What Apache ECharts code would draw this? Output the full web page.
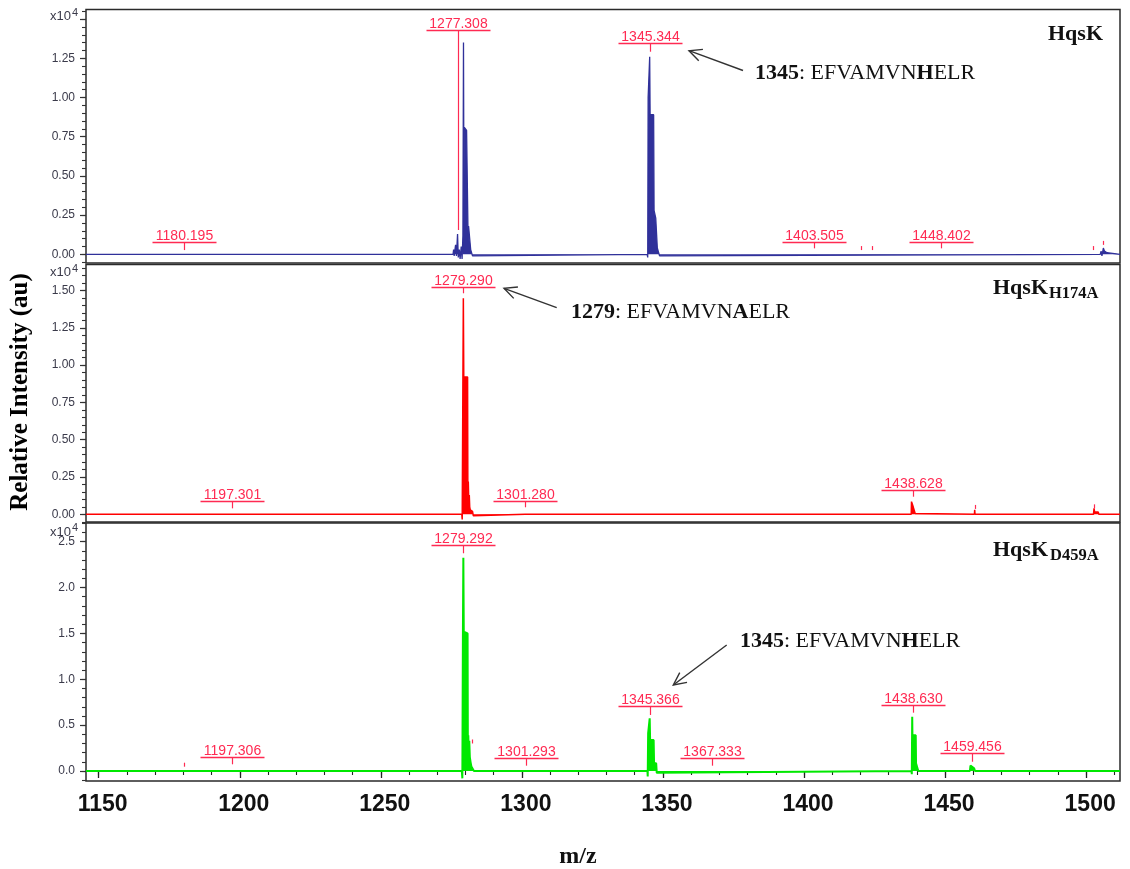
<!DOCTYPE html>
<html><head><meta charset="utf-8">
<script src="https://cdn.jsdelivr.net/npm/echarts@6/dist/echarts.min.js"></script>
<style>html,body{margin:0;padding:0;background:#fff}#c{width:1130px;height:869px}</style>
</head><body><div id="c"></div>
<script>
// ---------- data ----------
const xTicks = [1150,1200,1250,1300,1350,1400,1450,1500];
const xMinorTicks = [1150,1160,1170,1180,1190,1200,1210,1220,1230,1240,1250,1260,1270,1280,1290,1300,1310,1320,1330,1340,1350,1360,1370,1380,1390,1400,1410,1420,1430,1440,1450,1460,1470,1480,1490,1500,1510];

const y1Labels = [0,0.25,0.5,0.75,1.0,1.25];
const y1Major = [0,0.25,0.5,0.75,1.0,1.25,1.5];
const y1Minor = [-0.05,0,0.05,0.1,0.15,0.2,0.25,0.3,0.35,0.4,0.45,0.5,0.55,0.6,0.65,0.7,0.75,0.8,0.85,0.9,0.95,1.0,1.05,1.1,1.15,1.2,1.25,1.3,1.35,1.4,1.45,1.5,1.55];
const y2Labels = [0,0.25,0.5,0.75,1.0,1.25,1.5];
const y2Minor = [-0.05,0,0.05,0.1,0.15,0.2,0.25,0.3,0.35,0.4,0.45,0.5,0.55,0.6,0.65,0.7,0.75,0.8,0.85,0.9,0.95,1.0,1.05,1.1,1.15,1.2,1.25,1.3,1.35,1.4,1.45,1.5,1.55,1.6,1.65];
const y3Labels = [0,0.5,1.0,1.5,2.0,2.5];
const y3Minor = [-0.1,0,0.1,0.2,0.3,0.4,0.5,0.6,0.7,0.8,0.9,1.0,1.1,1.2,1.3,1.4,1.5,1.6,1.7,1.8,1.9,2.0,2.1,2.2,2.3,2.4,2.5,2.6,2.7];

// spectra: [m/z, intensity (x10^4)]
const specHqsK = [[1145.5,0],[1179.9,0],[1180.1,0.004],[1180.3,0],
 [1275.6,0],[1275.8,0.03],[1276.0,-0.01],[1276.5,0.06],[1276.8,-0.01],[1277.2,0.13],[1277.45,-0.02],[1277.8,0.03],[1278.1,-0.03],[1278.5,0.05],[1278.8,-0.03],[1279.1,0.12],[1279.3,1.35],[1279.45,0.4],[1279.6,0.81],[1280.1,0.80],[1280.4,0.79],[1280.8,0.78],[1280.95,0.08],[1281.1,0.18],[1281.4,0.17],[1281.7,0.18],[1281.85,0.03],[1282.1,0.04],[1282.5,-0.01],[1283.0,0],
 [1344.4,0],[1344.6,-0.02],[1344.75,1.0],[1345.15,1.0],[1345.3,1.26],[1345.45,0.89],[1346.7,0.89],[1346.85,0.28],[1347.3,0.28],[1347.45,0.23],[1347.85,0.23],[1348.0,0.04],[1348.6,0.04],[1348.8,-0.01],[1349.1,0],
 [1505.0,0],[1505.3,0.02],[1505.6,-0.01],[1506.1,0.04],[1506.5,0.02],[1507.4,0.01],[1507.8,0],[1512,0]];
const specH174A = [[1145.5,0],[1197.2,0],[1197.3,0.012],[1197.5,0.012],[1197.6,0],
 [1278.7,0],[1278.85,-0.035],[1279.05,-0.03],[1279.1,0.92],[1279.25,1.449],[1279.4,0.92],[1280.75,0.92],[1280.85,0.1],[1281.0,0.22],[1281.15,0.1],[1281.35,0.13],[1281.5,0.05],[1281.7,0.03],[1282.5,0.02],[1282.8,-0.01],[1283.0,0],
 [1301.2,0],[1301.3,0.012],[1301.5,0.012],[1301.6,0],
 [1438.0,0],[1438.1,0.085],[1438.6,0.085],[1438.7,0.05],[1439.3,0.05],[1439.4,0.005],[1439.9,0.017],[1440.1,0],
 [1460.4,0],[1460.5,0.03],[1460.6,0],
 [1502.6,0],[1502.8,0.04],[1503.0,0.015],[1504.3,0.015],[1504.5,0],[1512,0]];
const specD459A = [[1145.5,0],[1180.3,0],[1180.4,0.01],[1180.5,0],[1197.2,0],[1197.3,0.02],[1197.4,0],
 [1278.7,0],[1278.9,-0.08],[1279.05,-0.06],[1279.1,1.52],[1279.25,2.326],[1279.4,1.52],[1280.75,1.50],[1280.85,0.2],[1281.0,0.39],[1281.15,0.2],[1281.35,0.33],[1281.55,0.15],[1281.8,0.1],[1282.1,0.05],[1282.6,0.03],[1283.0,0],
 [1301.2,0],[1301.3,0.01],[1301.4,0],
 [1344.5,0],[1344.6,-0.06],[1344.75,0.41],[1345.15,0.41],[1345.3,0.575],[1345.45,0.338],[1346.7,0.338],[1346.85,0.084],[1347.6,0.084],[1347.8,-0.02],[1348.0,0],
 [1438.1,0],[1438.2,-0.035],[1438.35,0.592],[1438.5,0.2],[1438.8,0.39],[1439.6,0.39],[1439.7,0.084],[1440.4,0.084],[1440.5,0],
 [1458.8,0],[1459.0,0.058],[1459.5,0.04],[1460.3,0.03],[1460.6,0],[1512,0]];

// labelled peaks: [m/z, tick base intensity, label level intensity]
const peaksHqsK = [[1180.195,0.027,0.080],[1277.308,0.155,1.430],[1345.344,1.292,1.346],[1403.505,0.038,0.080],[1448.402,0.038,0.080]];
const peaksH174A = [[1197.301,0.040,0.089],[1279.290,1.482,1.527],[1301.280,0.047,0.091],[1438.628,0.118,0.163]];
const peaksD459A = [[1197.306,0.073,0.156],[1279.292,2.374,2.465],[1301.293,0.058,0.138],[1345.366,0.611,0.709],[1367.333,0.058,0.138],[1438.630,0.636,0.720],[1459.456,0.101,0.193]];
// unlabelled peak marks: [m/z, base intensity]
const marksHqsK = [[1420.2,0.027],[1424.0,0.027],[1502.6,0.027],[1505.9,0.06]];
const marksH174A = [[1460.5,0.036],[1502.9,0.040]];
const marksD459A = [[1180.4,0.047],[1282.4,0.30]];

// ---------- styling ----------
const MARK = '#ff2a52';
const SERIF = '"Liberation Serif", "Times New Roman", serif';
const SANS = '"Liberation Sans", Arial, sans-serif';
const X_MIN = 1145.5, X_MAX = 1512;

function labeledMark(params, api){
  const mz = api.value(0);
  const p0 = api.coord([mz, api.value(1)]);
  const p1 = api.coord([mz, api.value(2)]);
  const x = Math.round(p0[0]) + 0.5;
  const yl = Math.round(p1[1]) + 0.5;
  return {type:'group', children:[
    {type:'line', shape:{x1:x,y1:p0[1],x2:x,y2:yl}, style:{stroke:MARK,lineWidth:1.2}},
    {type:'line', shape:{x1:x-32,y1:yl,x2:x+32,y2:yl}, style:{stroke:MARK,lineWidth:1.5}},
    {type:'text', x:x, y:yl+1, style:{text:mz.toFixed(3), fill:MARK, font:'14px '+SANS, textAlign:'center', textVerticalAlign:'bottom'}}
  ]};
}
function plainMark(params, api){
  const p0 = api.coord([api.value(0), api.value(1)]);
  const x = Math.round(p0[0]) + 0.5;
  return {type:'line', shape:{x1:x,y1:p0[1],x2:x,y2:p0[1]-4}, style:{stroke:MARK,lineWidth:1.2}};
}

const grids = [
  {left:86, width:1034, top:9.5, height:253.5},
  {left:86, width:1034, top:264.5, height:257.5},
  {left:86, width:1034, top:523, height:258}
].map(g => Object.assign(g, {show:true, borderColor:'#2a2a2a', borderWidth:1.5}));

const yRanges = [[-0.0555,1.5612],[-0.0516,1.675],[-0.109,2.704]];
const yLab = [y1Labels,y2Labels,y3Labels];
const yMaj = [y1Major,y2Labels,y3Labels];
const yMin = [y1Minor,y2Minor,y3Minor];
const yFmt = [v=>v.toFixed(2), v=>v.toFixed(2), v=>v.toFixed(1)];

const yAxes = [];
for (let g=0; g<3; g++){
  yAxes.push({gridIndex:g, type:'value', min:yRanges[g][0], max:yRanges[g][1],
    axisLine:{show:false}, splitLine:{show:false},
    axisTick:{show:true, customValues:yMaj[g], length:6, lineStyle:{color:'#333', width:1.2}},
    axisLabel:{customValues:yLab[g], formatter:yFmt[g], fontSize:12, fontFamily:SANS, color:'#3a3a4a', margin:11}});
  yAxes.push({gridIndex:g, type:'value', min:yRanges[g][0], max:yRanges[g][1], position:'left',
    axisLine:{show:false}, splitLine:{show:false}, axisLabel:{show:false},
    axisTick:{show:true, customValues:yMin[g], length:4, lineStyle:{color:'#333', width:1.1}}});
}
const xAxes = [
  {gridIndex:0, type:'value', min:X_MIN, max:X_MAX, show:false},
  {gridIndex:1, type:'value', min:X_MIN, max:X_MAX, show:false},
  {gridIndex:2, type:'value', min:X_MIN, max:X_MAX, axisLine:{show:false}, splitLine:{show:false},
    axisTick:{show:true, customValues:xTicks, length:7, lineStyle:{color:'#222', width:1.3}},
    axisLabel:{customValues:xTicks, formatter:v=>String(v), fontSize:23, fontWeight:'bold', fontFamily:SANS, color:'#111', margin:12, padding:[0,0,0,8]}},
  {gridIndex:2, type:'value', min:X_MIN, max:X_MAX, position:'bottom', axisLine:{show:false}, splitLine:{show:false}, axisLabel:{show:false},
    axisTick:{show:true, customValues:xMinorTicks, length:4, lineStyle:{color:'#222', width:1.1}}}
];

const colors = ['#30319a','#ff0000','#00e800'];
const widths = [1.3,1.5,2];
const specs = [specHqsK, specH174A, specD459A];
const peaks = [peaksHqsK, peaksH174A, peaksD459A];
const marks = [marksHqsK, marksH174A, marksD459A];
const series = [];
for (let g=0; g<3; g++){
  series.push({type:'line', xAxisIndex:g, yAxisIndex:2*g, data:specs[g], showSymbol:false, symbol:'none',
    lineStyle:{color:colors[g], width:widths[g]}, areaStyle:{color:colors[g], opacity:1}, z:2});
  series.push({type:'custom', xAxisIndex:g, yAxisIndex:2*g, data:peaks[g], renderItem:labeledMark, clip:false, z:5});
  series.push({type:'custom', xAxisIndex:g, yAxisIndex:2*g, data:marks[g], renderItem:plainMark, clip:false, z:5});
}

function arrow(x1,y1,x2,y2){
  const a = Math.atan2(y2-y1, x2-x1), L = 14, w = 0.45;
  const p1 = [x2 - L*Math.cos(a-w), y2 - L*Math.sin(a-w)];
  const p2 = [x2 - L*Math.cos(a+w), y2 - L*Math.sin(a+w)];
  return [
    {type:'line', shape:{x1:x1,y1:y1,x2:x2,y2:y2}, style:{stroke:'#333',lineWidth:1.4}},
    {type:'polyline', shape:{points:[p1,[x2,y2],p2]}, style:{stroke:'#333',lineWidth:1.4,fill:null}}
  ];
}
function txt(x,y,text,font,align,extra){
  return {type:'text', x:x, y:y, z:10, style:Object.assign({text:text, font:font, fill:'#111', textAlign:align||'left', textVerticalAlign:'middle'}, extra||{})};
}
const richPep = {b:{font:'bold 22px '+SERIF, fill:'#111'}, n:{font:'22px '+SERIF, fill:'#111'}};
function pep(x,y,num,mid,bold,end){
  return {type:'text', x:x, y:y, z:10, style:{text:'{b|'+num+'}{n|: '+mid+'}{b|'+bold+'}{n|'+end+'}', rich:richPep, textVerticalAlign:'middle'}};
}

const EXP = {fill:'#3a3a4a'};
const graphic = [
  {type:'text', x:21, y:392, rotation:Math.PI/2, z:10, style:{text:'Relative Intensity (au)', font:'bold 25px '+SERIF, fill:'#000', textAlign:'center', textVerticalAlign:'middle'}},
  txt(578,857,'m/z','bold 24px '+SERIF,'center'),
  // x10^4 exponents
  txt(50,16.5,'x10','13px '+SANS,'left',EXP), txt(72,13,'4','11px '+SANS,'left',EXP),
  txt(50,272.5,'x10','13px '+SANS,'left',EXP), txt(72,268.5,'4','11px '+SANS,'left',EXP),
  txt(50,532,'x10','13px '+SANS,'left',EXP), txt(72,527.5,'4','11px '+SANS,'left',EXP),
  // panel names
  txt(1103,34.5,'HqsK','bold 22px '+SERIF,'right'),
  txt(1048,288.5,'HqsK','bold 22px '+SERIF,'right'), txt(1049,294,'H174A','bold 16.5px '+SERIF,'left'),
  txt(1048,550,'HqsK','bold 22px '+SERIF,'right'), txt(1050,556,'D459A','bold 16.5px '+SERIF,'left'),
  // peptide annotations
  pep(755,73.5,'1345','EFVAMVN','H','ELR'),
  pep(571,312,'1279','EFVAMVN','A','ELR'),
  pep(740,641.5,'1345','EFVAMVN','H','ELR')
].concat(arrow(743,70.5,689,50.7), arrow(556.7,307.7,504,288.3), arrow(726.7,645,673.3,685));

const chart = echarts.init(document.getElementById('c'));
chart.setOption({animation:false, backgroundColor:'#fff', grid:grids, xAxis:xAxes, yAxis:yAxes, series:series, graphic:graphic});
</script></body></html>
